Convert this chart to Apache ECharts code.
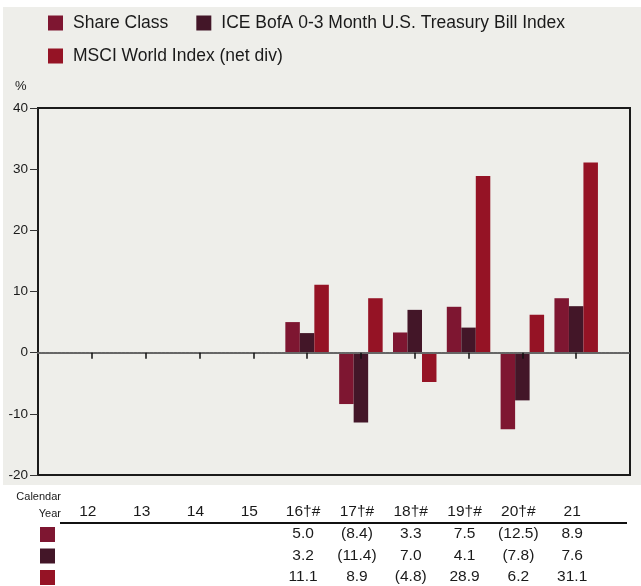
<!DOCTYPE html>
<html>
<head>
<meta charset="utf-8">
<script src="https://cdn.jsdelivr.net/npm/echarts@6/dist/echarts.min.js"></script>
<style>
  html, body { margin: 0; padding: 0; background: #fff; }
  #chart { width: 641px; height: 586px; }
</style>
</head>
<body>
<div id="chart"></div>
<script>
// calendar years shown under the chart
var years = ['12', '13', '14', '15', '16†#', '17†#', '18†#', '19†#', '20†#', '21'];

var seriesNames = ['Share Class', 'ICE BofA 0-3 Month U.S. Treasury Bill Index', 'MSCI World Index (net div)'];
var colors = ['#7e1631', '#431628', '#951325'];

var shareClass = [null, null, null, null, 5.0, -8.4, 3.3, 7.5, -12.5, 8.9];
var tbillIndex = [null, null, null, null, 3.2, -11.4, 7.0, 4.1, -7.8, 7.6];
var msciWorld  = [null, null, null, null, 11.1, 8.9, -4.8, 28.9, 6.2, 31.1];

var yTicks = { min: -20, max: 40, step: 10 };

var mainFont = "'Liberation Sans', Arial, sans-serif";

// pad one empty slot each side so the categories sit inside the frame
function pad(arr) { return [''].concat(arr, ['']); }
function padVals(arr) { return [null].concat(arr, [null]); }
function fmt(v) {
  if (v === null || v === undefined) return '';
  return v < 0 ? '(' + Math.abs(v).toFixed(1) + ')' : v.toFixed(1);
}

var allSeries = [shareClass, tbillIndex, msciWorld];

// hidden axes that only carry the text rows of the table
function rowAxis(labels, offset) {
  return {
    type: 'category',
    position: 'bottom',
    boundaryGap: false,
    offset: offset,
    data: pad(labels),
    axisLine: { show: false },
    axisTick: { show: false },
    axisLabel: {
      interval: 0,
      margin: 0,
      verticalAlign: 'middle',
      padding: [0, 8, 0, 0],
      fontFamily: mainFont,
      fontSize: 15.5,
      color: '#1a1a1a'
    }
  };
}

var xAxes = [{
  type: 'category',
  boundaryGap: false,
  data: pad(years),
  z: 5,
  axisLine: { onZero: true, lineStyle: { color: '#666', width: 2, type: [3, 1] } },
  axisTick: {
    show: true, length: 6,
    interval: function (i, v) { return v !== ''; },
    lineStyle: { color: '#111', width: 1.5 }
  },
  axisLabel: { show: false }
}];
xAxes.push(rowAxis(years, 37));
allSeries.forEach(function (s, i) {
  xAxes.push(rowAxis(s.map(fmt), 59 + i * 21.5));
});

var graphics = [
  { type: 'rect', z: -10, silent: true, shape: { x: 3, y: 7, width: 638, height: 478 }, style: { fill: '#eeeeea' } },
  { type: 'text', left: 15, top: 80, style: { text: '%', font: '13px ' + mainFont, fill: '#1a1a1a' } },
  { type: 'text', right: 641 - 61, top: 491, style: { text: 'Calendar', font: '11px ' + mainFont, fill: '#1a1a1a', align: 'right' } },
  { type: 'text', right: 641 - 61, top: 508, style: { text: 'Year', font: '11px ' + mainFont, fill: '#1a1a1a', align: 'right' } },
  { type: 'line', shape: { x1: 60, y1: 523, x2: 627, y2: 523 }, style: { stroke: '#111', lineWidth: 2 } }
];
colors.forEach(function (c, i) {
  graphics.push({ type: 'rect', shape: { x: 40, y: 527 + i * 21.5, width: 15, height: 15 }, style: { fill: c } });
});

var chart = echarts.init(document.getElementById('chart'), null, { renderer: 'canvas' });
chart.setOption({
  animation: false,
  backgroundColor: '#ffffff',
  color: colors,
  legend: [{
    left: 48, top: 14, padding: 0,
    itemWidth: 15, itemHeight: 15, itemGap: 28,
    icon: 'rect',
    data: [seriesNames[0], seriesNames[1]],
    textStyle: { fontFamily: mainFont, fontSize: 17.5, color: '#1a1a1a', padding: [0, 0, 0, 5] }
  }, {
    left: 48, top: 47, padding: 0,
    itemWidth: 15, itemHeight: 15,
    icon: 'rect',
    data: [seriesNames[2]],
    textStyle: { fontFamily: mainFont, fontSize: 17.5, color: '#1a1a1a', padding: [0, 0, 0, 5] }
  }],
  grid: {
    left: 38, right: 11, top: 108, bottom: 111,
    show: true, borderColor: '#1a1a1a', borderWidth: 2,
    backgroundColor: 'transparent'
  },
  xAxis: xAxes,
  yAxis: {
    type: 'value',
    min: yTicks.min, max: yTicks.max, interval: yTicks.step,
    splitLine: { show: false },
    axisLine: { show: true, lineStyle: { color: '#1a1a1a', width: 2 } },
    axisTick: { show: true, length: 8, lineStyle: { color: '#333', width: 1 } },
    axisLabel: { margin: 10, fontFamily: mainFont, fontSize: 13.5, color: '#1a1a1a' }
  },
  series: allSeries.map(function (s, i) {
    return {
      name: seriesNames[i],
      type: 'bar',
      xAxisIndex: 0,
      data: padVals(s),
      barWidth: 14.5,
      barGap: '0%',
      itemStyle: { color: colors[i] }
    };
  }),
  graphic: graphics
});
</script>
</body>
</html>
